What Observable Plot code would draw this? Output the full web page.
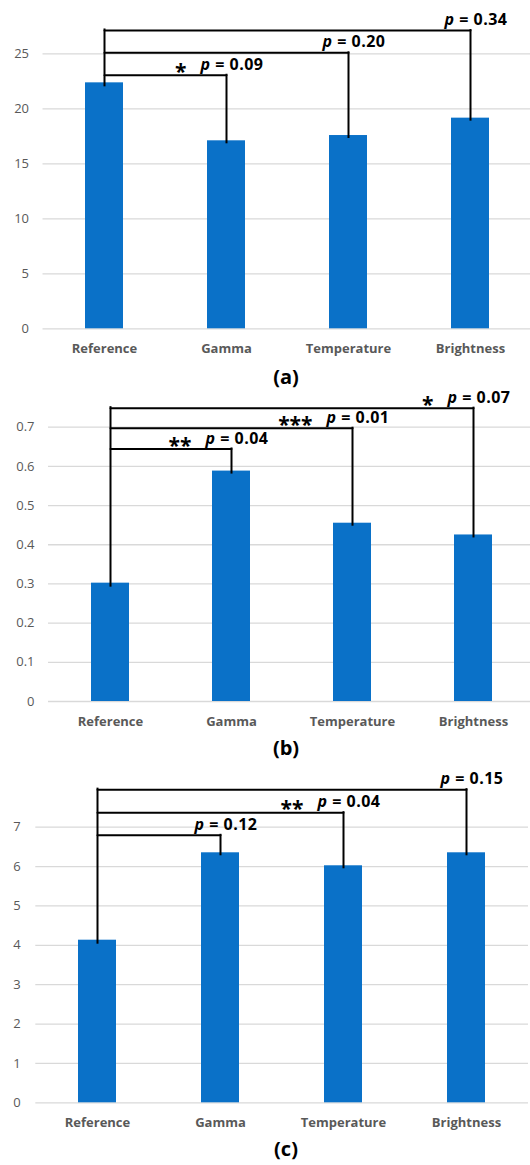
<!DOCTYPE html>
<html><head><meta charset="utf-8">
<script src="https://cdn.jsdelivr.net/npm/d3@7"></script>
<script src="https://cdn.jsdelivr.net/npm/@observablehq/plot@0.6"></script>
<style>
html,body{margin:0;padding:0;background:#fff;overflow:hidden;}
#root{position:relative;width:530px;height:1165px;overflow:hidden;font-family:"Open Sans",sans-serif;background:#fff;}
.panel{position:absolute;left:0;width:540px;}
.panel svg{max-width:none !important;}
.title{position:absolute;left:0;width:572px;text-align:center;font-weight:bold;font-size:20px;color:#000;z-index:2;line-height:20px;font-family:"Open Sans",sans-serif;}
</style></head><body><div id="root"></div>
<script>
// ---- data ----
const categories = ["Reference", "Gamma", "Temperature", "Brightness"];
const targets = ["Gamma", "Temperature", "Brightness"];

const valuesA = [22.36, 17.09, 17.57, 19.15];
const ticksA = [0, 5, 10, 15, 20, 25];
const levelsA = [23.05, 25.09, 27.12];
const pLabelsA = ["p = 0.09", "p = 0.20", "p = 0.34"];
const starsA = ["*", "", ""];

const valuesB = [0.302, 0.588, 0.455, 0.425];
const ticksB = [0, 0.1, 0.2, 0.3, 0.4, 0.5, 0.6, 0.7];
const levelsB = [0.6445, 0.6974, 0.7486];
const pLabelsB = ["p = 0.04", "p = 0.01", "p = 0.07"];
const starsB = ["**", "***", "*"];

const valuesC = [4.13, 6.35, 6.02, 6.35];
const ticksC = [0, 1, 2, 3, 4, 5, 6, 7];
const levelsC = [6.794, 7.369, 7.954];
const pLabelsC = ["p = 0.12", "p = 0.04", "p = 0.15"];
const starsC = ["", "**", ""];

const titles = ["(a)", "(b)", "(c)"];

// ---- drawing ----
const root = document.getElementById("root");
const BAR = "#0A71C8";

function panel(values, ticks, levels, pLabels, stars, layout) {
  const bars = categories.map((c, i) => ({cat: c, v: values[i]}));
  const comps = targets.map((t, i) => ({
    target: t, level: levels[i], value: values[categories.indexOf(t)],
    p: pLabels[i], star: stars[i]
  }));
  const horiz = comps.flatMap((d, i) => [
    {k: i, x: categories[0], y: d.level},
    {k: i, x: d.target, y: d.level}
  ]);
  const refLine = [{x: categories[0], y1: d3.max(levels), y2: values[0]}];

  const svg = Plot.plot({
    width: 540,
    height: layout.height,
    marginTop: layout.marginTop,
    marginBottom: layout.marginBottom,
    marginLeft: layout.marginLeft,
    marginRight: layout.marginRight,
    style: {fontFamily: "'Open Sans', sans-serif", background: "transparent", overflow: "visible", maxWidth: "none"},
    x: {domain: categories, paddingInner: 0.687, paddingOuter: 0.3435, label: null},
    y: {domain: [0, layout.yMax], label: null},
    marks: [
      Plot.gridY(ticks, {stroke: "#d9d9d9", strokeOpacity: 1, strokeWidth: 1.3}),
      Plot.axisY(ticks, {tickSize: 0, tickPadding: layout.tickPadding, fontSize: 13, fill: "#595959", label: null, tickFormat: d => String(d)}),
      Plot.axisX({tickSize: 0, tickPadding: 15, fontSize: 13, fontWeight: "bold", fill: "#595959", label: null}),
      Plot.barY(bars, {x: "cat", y: "v", fill: BAR}),
      Plot.ruleX(comps, {x: "target", y1: "level", y2: "value", stroke: "#000", strokeWidth: 2, insetTop: -1, insetBottom: -3}),
      Plot.ruleX(refLine, {x: "x", y1: "y1", y2: "y2", stroke: "#000", strokeWidth: 2, insetTop: -1.5, insetBottom: -4}),
      Plot.line(horiz, {x: "x", y: "y", z: "k", stroke: "#000", strokeWidth: 2}),
      Plot.text(comps, {x: "target", y: "level", text: "p", textAnchor: "start", dx: -26, dy: -10.5, fontSize: 16, fontWeight: "bold", fill: "#000"}),
      Plot.text(comps.filter(d => d.star), {x: "target", y: "level", text: "star", textAnchor: "end", dx: -40, dy: -3, fontSize: 21, fontWeight: "bold", fill: "#000"})
    ]
  });
  svg.style.maxWidth = "none";
  // italic "p" and slightly wider spacing
  svg.querySelectorAll("text").forEach(t => {
    const s = t.textContent;
    if (s.startsWith("p = ")) {
      t.textContent = "";
      t.setAttribute("letter-spacing", "0.5");
      const ts = document.createElementNS("http://www.w3.org/2000/svg", "tspan");
      ts.setAttribute("font-style", "italic");
      ts.textContent = "p";
      t.appendChild(ts);
      t.appendChild(document.createTextNode(s.slice(1)));
    }
  });
  const div = document.createElement("div");
  div.className = "panel";
  div.style.top = layout.top + "px";
  div.appendChild(svg);
  root.appendChild(div);
}

panel(valuesA, ticksA, levelsA, pLabelsA, starsA,
  {top: 0, height: 362, marginTop: 53.3, marginBottom: 33.7, marginLeft: 42.5, marginRight: 8.5, yMax: 25, tickPadding: 14});
panel(valuesB, ticksB, levelsB, pLabelsB, starsB,
  {top: 380, height: 355, marginTop: 46.7, marginBottom: 34, marginLeft: 48, marginRight: 5.3, yMax: 0.7, tickPadding: 14});
panel(valuesC, ticksC, levelsC, pLabelsC, starsC,
  {top: 760, height: 375, marginTop: 66.7, marginBottom: 32.7, marginLeft: 35.3, marginRight: 12, yMax: 7, tickPadding: 15});

const titleCenters = [378, 749, 1150];
titles.forEach((t, i) => {
  const d = document.createElement("div");
  d.className = "title";
  d.textContent = t;
  d.style.top = (titleCenters[i] - 11) + "px";
  root.appendChild(d);
});
</script>
</body></html>
